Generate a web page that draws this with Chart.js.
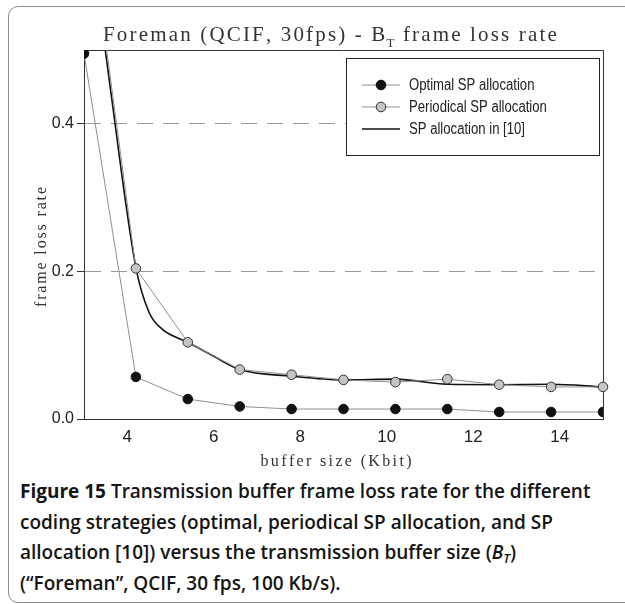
<!DOCTYPE html>
<html>
<head>
<meta charset="utf-8">
<script src="https://cdn.jsdelivr.net/npm/chart.js@4.4.1/dist/chart.umd.min.js"></script>
<style>
  html, body { margin: 0; padding: 0; background: #fff; overflow: hidden; }
  body { width: 625px; height: 604px; position: relative; }
  #frame { position: absolute; left: 8px; top: 6px; width: 650px; height: 595px;
           border: 1.5px solid #8c8c8c; border-radius: 10px; }
  #wrap { position: absolute; left: 0; top: 0; width: 625px; height: 475px; }
  #caption { position: absolute; left: 20px; top: 476px; font-family: "Open Sans", sans-serif;
             font-size: 19px; line-height: 30.5px; font-weight: 600; color: #151515;
             white-space: nowrap; letter-spacing: 0px; }
  #caption b { font-weight: 700; }
  #caption .sub { font-size: 13px; position: relative; top: 4px; line-height: 0; }
</style>
</head>
<body>
<div id="frame"></div>
<div id="wrap"><canvas id="chart" width="625" height="475"></canvas></div>
<div id="caption"><b>Figure 15</b> Transmission buffer frame loss rate for the different<br>coding strategies (optimal, periodical SP allocation, and SP<br>allocation [10]) versus the transmission buffer size (<i>B<span class="sub">T</span></i>)<br>(“Foreman”, QCIF, 30 fps, 100 Kb/s).</div>
<script>
// values
const bufferSizes = [3, 4.2, 5.4, 6.6, 7.8, 9.0, 10.2, 11.4, 12.6, 13.8, 15];
const optimalLoss = [0.495, 0.057, 0.027, 0.017, 0.0135, 0.0135, 0.0135, 0.0135, 0.0095, 0.0095, 0.0095];
const periodicalLoss = [0.73, 0.204, 0.104, 0.067, 0.060, 0.053, 0.050, 0.054, 0.0465, 0.0435, 0.0435];
// the [10] curve is drawn without markers, read at more places
const sp10Sizes = [3, 3.6, 4.2, 4.5, 4.8, 5.4, 6.0, 6.6, 7.8, 9.0, 10.2, 11.4, 12.6, 13.8, 15];
const sp10Loss = [0.72, 0.452, 0.205, 0.145, 0.122, 0.104, 0.085, 0.067, 0.058, 0.053, 0.054, 0.047, 0.0465, 0.047, 0.0435];

const xTicks = [4, 6, 8, 10, 12, 14];
const yTicks = [0, 0.2, 0.4];
const seriesLabels = ['Optimal SP allocation', 'Periodical SP allocation', 'SP allocation in [10]'];

const chartTitle = ['Foreman (QCIF, 30fps) - B', 'T', ' frame loss rate'];
const xTitle = 'buffer size (Kbit)';
const yTitle = 'frame loss rate';

const toPoints = (xs, ys) => xs.map((x, i) => ({ x: x, y: ys[i] }));

// letter spaced text, drawn char by char
function spacedWidth(ctx, s, sp) {
  let w = 0;
  for (const ch of s) w += ctx.measureText(ch).width + sp;
  return w;
}
function drawSpaced(ctx, s, x, y, sp) {
  for (const ch of s) {
    ctx.fillText(ch, x, y);
    x += ctx.measureText(ch).width + sp;
  }
  return x;
}

const serif = '"Liberation Serif", "DejaVu Serif", serif';
const sans = '"Liberation Sans", Arial, sans-serif';

const figurePlugin = {
  id: 'figureText',
  beforeDatasetsDraw(chart) {
    const { ctx, chartArea: a } = chart;
    ctx.save();
    ctx.strokeStyle = '#333';
    ctx.lineWidth = 1;
    ctx.beginPath();
    ctx.moveTo(Math.round(a.left), Math.round(a.top) + 0.5);
    ctx.lineTo(Math.round(a.right) + 0.5, Math.round(a.top) + 0.5);
    ctx.lineTo(Math.round(a.right) + 0.5, Math.round(a.bottom));
    ctx.stroke();
    ctx.restore();
  },
  afterDraw(chart) {
    const { ctx } = chart;
    ctx.save();
    ctx.fillStyle = '#333';
    ctx.textBaseline = 'alphabetic';

    // title with subscript T
    const big = '21px ' + serif, small = '13px ' + serif;
    ctx.font = big;
    const natural = spacedWidth(ctx, chartTitle[0], 0) + spacedWidth(ctx, chartTitle[2], 0);
    ctx.font = small;
    const subW = ctx.measureText(chartTitle[1]).width;
    const nChars = chartTitle[0].length + chartTitle[2].length;
    const sp = (456 - natural - subW) / nChars;
    let x = 331 - 228;
    ctx.font = big;
    x = drawSpaced(ctx, chartTitle[0], x, 41, sp);
    ctx.font = small;
    ctx.fillText(chartTitle[1], x - sp + 1, 47);
    x += subW;
    ctx.font = big;
    drawSpaced(ctx, chartTitle[2], x, 41, sp);

    // axis titles
    ctx.font = '16px ' + serif;
    let w0 = spacedWidth(ctx, xTitle, 0);
    let s2 = (151 - w0) / (xTitle.length - 1);
    drawSpaced(ctx, xTitle, 336 - 75.5, 466, s2);

    w0 = spacedWidth(ctx, yTitle, 0);
    s2 = (120 - w0) / (yTitle.length - 1);
    ctx.translate(46, 247);
    ctx.rotate(-Math.PI / 2);
    drawSpaced(ctx, yTitle, -60, 0, s2);
    ctx.setTransform(1, 0, 0, 1, 0, 0);

    // legend box
    ctx.fillStyle = '#fff';
    ctx.fillRect(346.5, 58.5, 253, 97);
    ctx.strokeStyle = '#222';
    ctx.lineWidth = 1;
    ctx.strokeRect(346.5, 58.5, 253, 97);
    ctx.textBaseline = 'middle';
    chart.data.datasets.forEach((ds, i) => {
      const y = 85 + i * 22;
      ctx.strokeStyle = ds.borderColor;
      ctx.lineWidth = ds.borderWidth;
      ctx.beginPath();
      ctx.moveTo(362, y);
      ctx.lineTo(400, y);
      ctx.stroke();
      if (ds.pointRadius > 0) {
        ctx.beginPath();
        ctx.arc(381, y, ds.pointRadius, 0, Math.PI * 2);
        ctx.fillStyle = ds.pointBackgroundColor;
        ctx.fill();
        ctx.strokeStyle = ds.pointBorderColor;
        ctx.lineWidth = 1;
        ctx.stroke();
      }
      // condensed look of the original legend font
      ctx.save();
      ctx.font = '16px ' + sans;
      ctx.fillStyle = '#222';
      ctx.translate(409, y + 1);
      ctx.scale(0.82, 1);
      ctx.fillText(ds.label, 0, 0);
      ctx.restore();
    });
    ctx.restore();
  }
};

new Chart(document.getElementById('chart'), {
  type: 'line',
  data: {
    datasets: [
      {
        label: seriesLabels[0],
        data: toPoints(bufferSizes, optimalLoss),
        borderColor: '#8f8f8f',
        borderWidth: 1,
        pointRadius: 4.8,
        pointBackgroundColor: '#111',
        pointBorderColor: '#111',
        pointBorderWidth: 1,
        tension: 0
      },
      {
        label: seriesLabels[1],
        data: toPoints(bufferSizes, periodicalLoss),
        borderColor: '#8f8f8f',
        borderWidth: 1,
        pointRadius: 4.8,
        pointBackgroundColor: '#c4c4c4',
        pointBorderColor: '#333',
        pointBorderWidth: 1,
        tension: 0,
        clip: { left: 8, right: 8, bottom: 8, top: 0 }
      },
      {
        label: seriesLabels[2],
        data: toPoints(sp10Sizes, sp10Loss),
        borderColor: '#111',
        borderWidth: 1.6,
        pointRadius: 0,
        cubicInterpolationMode: 'monotone',
        clip: { left: 0, right: 4, bottom: 4, top: 0 }
      }
    ]
  },
  options: {
    responsive: false,
    animation: false,
    devicePixelRatio: 1,
    layout: { padding: { top: 50, right: 22, left: 0, bottom: 0 } },
    plugins: { legend: { display: false }, tooltip: { enabled: false } },
    scales: {
      x: {
        type: 'linear',
        min: 3,
        max: 15,
        afterBuildTicks: s => { s.ticks = xTicks.map(v => ({ value: v })); },
        afterFit: s => { s.height = 56; },
        grid: { display: false, drawTicks: false },
        border: { display: true, color: '#333', width: 1 },
        ticks: { font: { family: sans, size: 17 }, color: '#222', padding: 8, maxRotation: 0 }
      },
      y: {
        type: 'linear',
        min: 0,
        max: 0.5,
        afterBuildTicks: s => { s.ticks = yTicks.map(v => ({ value: v })); },
        afterFit: s => { s.width = 84; },
        grid: {
          color: c => (c.tick && c.tick.value === 0) ? 'rgba(0,0,0,0)' : '#9a9a9a',
          lineWidth: 1,
          drawTicks: true,
          tickLength: 7,
          tickColor: '#333',
          tickWidth: 1
        },
        border: { display: true, color: '#333', width: 1, dash: [16, 10] },
        ticks: {
          font: { family: sans, size: 16 },
          color: '#222',
          padding: 3,
          callback: v => v.toFixed(1)
        }
      }
    }
  },
  plugins: [figurePlugin]
});
</script>
</body>
</html>
